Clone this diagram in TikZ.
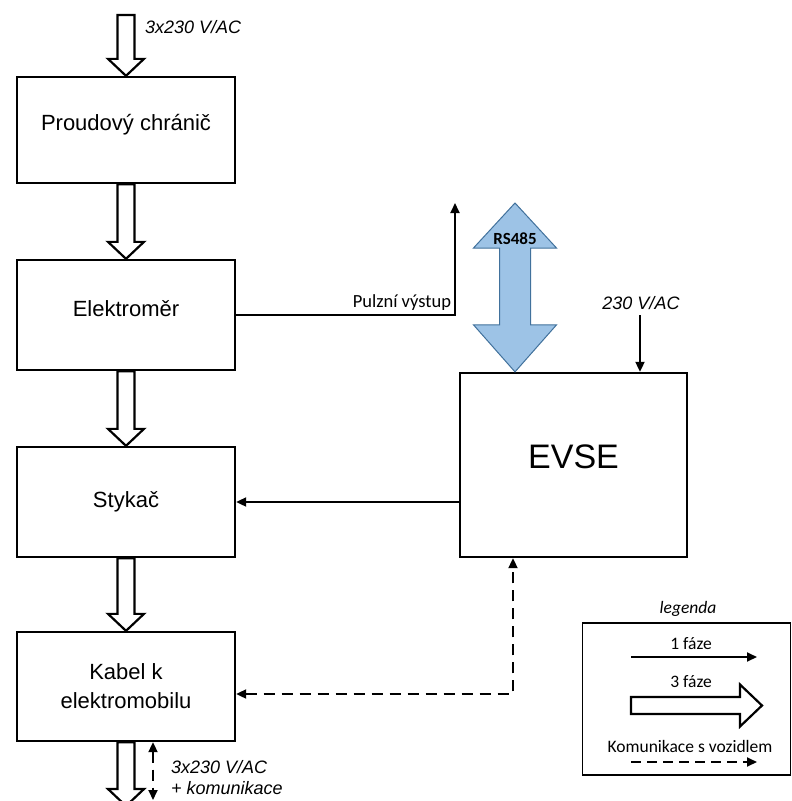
\documentclass[tikz,border=0pt]{standalone}
\usepackage{fontspec}
\setmainfont{Liberation Sans}
\newfontfamily\calib{Carlito}
\usetikzlibrary{arrows.meta,calc}

% hollow three-phase arrow, vertical, from #1 (top) to tip #2
\newcommand\trifaze[2]{%
  \draw[trif] let \p1=(#1), \p2=(#2) in
    (\x1-8.5pt,\y1) -- (\x1-8.5pt,\y2+17pt) -- (\x1-18pt,\y2+17pt) -- (\x1,\y2)
    -- (\x1+18pt,\y2+17pt) -- (\x1+8.5pt,\y2+17pt) -- (\x1+8.5pt,\y1) -- cycle;}

\definecolor{rsfill}{RGB}{157,195,230}
\definecolor{rsline}{RGB}{65,113,156}

\tikzset{
  >={Triangle[length=10pt,width=9pt]},
  blok/.style={draw, line width=2.3pt, minimum width=218pt, align=center,
    font=\fontsize{22}{29}\selectfont, inner sep=0pt},
  trif/.style={draw, line width=2.2pt, fill=white, line join=miter},
  onef/.style={line width=1.8pt, ->},
  komm/.style={line width=1.8pt, dash pattern=on 11pt off 7pt},
  napeti/.style={font=\fontsize{18}{22}\selectfont\itshape, inner sep=0pt},
  calibtxt/.style={font=\calib\fontsize{17.5}{20}\selectfont, inner sep=0pt},
}

\begin{document}
\begin{tikzpicture}[x=1pt, y=-1pt]
\useasboundingbox (0,0) rectangle (792,801);

% main blocks
\node[blok, minimum height=106pt, text depth=16pt] (prou) at (126,130) {Proudový chránič};
\node[blok, minimum height=110pt, text depth=14pt] (elek) at (126,315) {Elektroměr};
\node[blok, minimum height=110pt] (styk) at (126,502) {Stykač};
\node[blok, minimum height=109pt] (kabel) at (126,686.5) {Kabel k\\elektromobilu};
\node[blok, minimum width=227pt, minimum height=184pt, text depth=16pt,
      font=\fontsize{34}{37}\selectfont] (evse) at (573.5,465) {EVSE};

% free ends
\coordinate (vstup) at (126,15);
\coordinate (vystup) at (126,806);
\coordinate (pulz) at (455,203);
\coordinate (rstop) at (515,203);
\coordinate (acin) at (640,315);
\coordinate (dcorner) at (513,694);
\coordinate (kbend) at (153,800);

% three-phase power path
\trifaze{vstup}{prou.north}
\trifaze{prou.south}{elek.north}
\trifaze{elek.south}{styk.north}
\trifaze{styk.south}{kabel.north}
\trifaze{kabel.south}{vystup}

\node[napeti, anchor=west] (vstuptxt) at (145,27) {3x230 V/AC};
\node[napeti, anchor=west] (vystuptxt1) at (171,767) {3x230 V/AC};
\node[napeti, anchor=west] (vystuptxt2) at (171,788) {+ komunikace};

% pulse output of the meter
\draw[onef] (elek.east) -| (pulz)
  node[calibtxt, font=\calib\fontsize{18.5}{20}\selectfont, pos=0.5, anchor=south east,
       xshift=-3pt, yshift=4pt] (pulztxt) {Pulzní výstup};

% RS485 bus
\draw[fill=rsfill, draw=rsline, line width=1pt, line join=miter]
  let \p1=(rstop), \p2=(rstop |- evse.north) in
  (\x1,\y1) -- (\x1+41.5pt,\y1-45pt) -- (\x1+15.5pt,\y1-45pt) -- (\x1+15.5pt,\y2+47pt)
  -- (\x1+41.5pt,\y2+47pt) -- (\x2,\y2) -- (\x1-41.5pt,\y2+47pt) -- (\x1-15.5pt,\y2+47pt)
  -- (\x1-15.5pt,\y1-45pt) -- (\x1-41.5pt,\y1-45pt) -- cycle;
\node[font=\calib\bfseries\fontsize{17}{19}\selectfont, inner sep=0pt] (rstxt) at (515,239) {RS485};

% EVSE supply
\draw[onef] (acin) -- (acin |- evse.north);
\node[napeti] (actxt) at (641,303) {230 V/AC};

% contactor control
\draw[onef] (styk.east -| evse.west) -- (styk.east);

% vehicle communication
\draw[komm, <->] (kabel.east |- dcorner) -- (dcorner) -- (evse.south -| dcorner);
\draw[komm, <->] (kabel.south -| kbend) -- (kbend);

% legend
\node[draw, line width=1.1pt, minimum width=208pt, minimum height=152pt] (leg) at (686.5,699) {};
\node[calibtxt, font=\calib\itshape\fontsize{17.5}{20}\selectfont] (legtxt) at (688,609) {legenda};
\node[calibtxt] (l1txt) at (691,644) {1 fáze};
\node[calibtxt] (l3txt) at (691,682) {3 fáze};
\node[calibtxt] (lktxt) at (690,746) {Komunikace s vozidlem};
\coordinate (l1a) at (631,657);
\coordinate (l1b) at (757,657);
\draw[onef] (l1a) -- (l1b);
\coordinate (l3a) at (631,705.5);
\coordinate (l3b) at (762,705.5);
\draw[trif] let \p1=(l3a), \p2=(l3b) in
  (\x1,\y1+8.5pt) -- (\x2-22pt,\y1+8.5pt) -- (\x2-22pt,\y1+21pt) -- (\x2,\y1)
  -- (\x2-22pt,\y1-21pt) -- (\x2-22pt,\y1-8.5pt) -- (\x1,\y1-8.5pt) -- cycle;
\coordinate (lka) at (631,762);
\coordinate (lkb) at (757,762);
\draw[line width=1.8pt, dash pattern=on 10pt off 6pt, ->] (lka) -- (lkb);
\end{tikzpicture}
\end{document}
